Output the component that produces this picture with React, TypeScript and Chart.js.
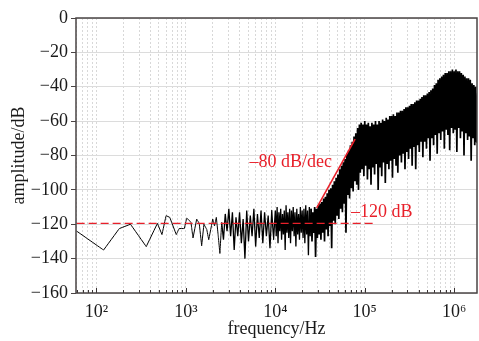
import React, { useEffect, useRef } from "react";
import { Chart, registerables } from "chart.js";

Chart.register(...registerables);

// ---- data ----
const lowFreq = [60, 120, 180, 240, 360, 480, 540, 600, 660, 780, 840, 960, 1020, 1080, 1140, 1200, 1320, 1410, 1500, 1590, 1710, 1800];
const lowAmp = [-124, -135, -122.5, -120, -133, -119.5, -126, -115, -116, -126, -122.5, -122.5, -116.5, -117.5, -119, -128, -117, -119.5, -132.5, -120, -123, -129];

// mid region: log10(freq) grid start / step, one value per bin
const midExpStart = 3.3;
const midExpStep = 0.02;
const midAmp = [-117, -121, -116, -126, -137, -119, -129, -114, -124, -111, -127, -113, -135, -116, -127, -113, -131, -117, -140, -112, -130, -115, -127, -111, -133, -114, -128, -112, -131, -113, -127, -115, -134, -112, -129];

// dense band region: per bin a high and a low excursion
const bandExpStart = 4.0;
const bandExpStep = 0.02;
const bandUpper = [
  -112, -110, -113, -111, -114, -112, -109, -113, -111, -112, -110, -113, -111, -114, -110, -112, -111, -109, -112, -110, -111, -113, -110, -111, -109,
  -108, -107, -105, -104, -102, -100, -99, -97, -95, -93, -91, -88, -86, -84, -82, -79, -77, -74, -72, -69, -67, -64, -62,
  -61, -62, -60, -62, -61, -63, -61, -62, -60, -62, -60, -61, -59, -60, -58, -59,
  -57, -57, -56, -57, -55, -55, -54, -54, -53, -52, -52, -51, -50, -50, -49, -48,
  -48, -47, -46, -45, -45, -44, -43, -42, -41, -39, -38, -36, -35, -34, -33, -32,
  -32, -31, -31, -30, -31, -30, -31, -31, -32, -33, -34, -35, -35, -36, -38, -39, -40, -42,
];
const bandLower = [
  -127, -131, -124, -129, -126, -135, -125, -128, -131, -124, -127, -133, -126, -129, -125, -128, -131, -126, -138, -127, -130, -125, -139, -128, -126,
  -129, -125, -130, -123, -127, -121, -134, -118, -120, -115, -117, -111, -113, -108, -125, -103, -105, -99, -101, -95, -97, -100, -90,
  -88, -92, -86, -94, -88, -97, -87, -91, -85, -100, -87, -92, -84, -96, -85, -88,
  -83, -93, -82, -86, -90, -80, -84, -79, -88, -78, -82, -76, -86, -75, -88, -74,
  -78, -72, -81, -72, -76, -70, -83, -70, -74, -68, -79, -67, -71, -66, -76, -65,
  -68, -77, -64, -67, -65, -78, -64, -70, -66, -80, -67, -71, -69, -83, -70, -74, -72, -75,
];

const refLevel = -119.5;
const refFreq = [60, 124000];
const slopeFreq = [29000, 78000];
const slopeAmp = [-110.5, -70.5];

const slopeLabel = "–80 dB/dec";
const slopeLabelAt = { x: 43000, y: -83.7 };
const refLabel = "–120 dB";
const refLabelAt = { x: 70300, y: -113.2 };

const xMin = 59;
const xMax = 1.8e6;
const yMin = -160;
const yMax = 0;
const yStep = 20;
const decades = [10, 100, 1000, 10000, 100000, 1000000];
const supers: Record<string, string> = { "1": "¹", "2": "²", "3": "³", "4": "⁴", "5": "⁵", "6": "⁶" };

const FONT = "'Liberation Serif', 'Times New Roman', serif";
const RED = "#e8202a";
const INK = "#1a1a1a";

function buildSpectrum() {
  const pts: { x: number; y: number }[] = [];
  lowFreq.forEach((f, i) => pts.push({ x: f, y: lowAmp[i] }));
  midAmp.forEach((a, i) => pts.push({ x: Math.pow(10, midExpStart + i * midExpStep), y: a }));
  bandUpper.forEach((u, k) => {
    const e = bandExpStart + k * bandExpStep;
    pts.push({ x: Math.pow(10, e), y: u });
    pts.push({ x: Math.pow(10, e + bandExpStep / 2), y: bandLower[k] });
  });
  return pts;
}

const overlay = {
  id: "overlay",
  afterDatasetsDraw(chart: any) {
    const { ctx, chartArea: a, scales } = chart;
    const xs = scales.x;
    const ys = scales.y;
    ctx.save();
    // inward ticks on the bottom axis
    ctx.strokeStyle = "#3a3333";
    ctx.lineWidth = 1;
    xs.ticks.forEach((t: any) => {
      const px = Math.round(xs.getPixelForValue(t.value)) + 0.5;
      const major = Math.abs(Math.log10(t.value) - Math.round(Math.log10(t.value))) < 1e-6;
      ctx.beginPath();
      ctx.moveTo(px, a.bottom);
      ctx.lineTo(px, a.bottom - (major ? 5 : 3));
      ctx.stroke();
    });
    // frame
    ctx.strokeStyle = "#4a4444";
    ctx.lineWidth = 1.5;
    ctx.strokeRect(a.left, a.top, a.right - a.left, a.bottom - a.top);
    // annotations
    ctx.fillStyle = RED;
    ctx.font = `18px ${FONT}`;
    ctx.textBaseline = "middle";
    ctx.textAlign = "right";
    ctx.fillText(slopeLabel, xs.getPixelForValue(slopeLabelAt.x), ys.getPixelForValue(slopeLabelAt.y));
    ctx.textAlign = "left";
    ctx.fillText(refLabel, xs.getPixelForValue(refLabelAt.x), ys.getPixelForValue(refLabelAt.y));
    ctx.restore();
  },
};

export default function App() {
  const ref = useRef<HTMLCanvasElement>(null);
  useEffect(() => {
    if (!ref.current) return;
    const chart = new Chart(ref.current, {
      type: "line",
      data: {
        datasets: [
          {
            data: [
              { x: slopeFreq[0], y: slopeAmp[0] },
              { x: slopeFreq[1], y: slopeAmp[1] },
            ],
            borderColor: RED,
            borderWidth: 1.6,
            pointRadius: 0,
            order: 0,
          },
          {
            data: [
              { x: refFreq[0], y: refLevel },
              { x: refFreq[1], y: refLevel },
            ],
            borderColor: RED,
            borderWidth: 1.3,
            borderDash: [8, 4],
            pointRadius: 0,
            order: 1,
          },
          {
            data: buildSpectrum(),
            borderColor: "#000000",
            borderWidth: 1,
            borderJoinStyle: "bevel",
            pointRadius: 0,
            tension: 0.00001,
            segment: {
              borderWidth: (c: any) => {
                const f = c.p0.parsed.x;
                if (f >= 25000) return 1.7;
                if (f >= 2500) return 1.3;
                return 1;
              },
            },
            order: 2,
          },
        ],
      },
      options: {
        animation: false,
        responsive: false,
        devicePixelRatio: 1,
        layout: { padding: { top: 18, right: 2, left: 0, bottom: 0 } },
        plugins: { legend: { display: false }, tooltip: { enabled: false } },
        scales: {
          x: {
            type: "logarithmic",
            min: xMin,
            max: xMax,
            afterBuildTicks(scale: any) {
              const vals: { value: number }[] = [];
              decades.forEach((d) => {
                for (let m = 1; m <= 9; m++) {
                  const v = d * m;
                  if (v >= xMin && v <= xMax) vals.push({ value: v });
                }
              });
              scale.ticks = vals;
            },
            afterFit(scale: any) {
              scale.height = 48;
            },
            ticks: {
              autoSkip: false,
              maxRotation: 0,
              padding: 8,
              color: INK,
              font: { family: FONT, size: 18 },
              callback(v: any) {
                const lg = Math.log10(v);
                if (Math.abs(lg - Math.round(lg)) > 1e-6) return "";
                return "10" + String(Math.round(lg)).split("").map((c) => supers[c] || c).join("");
              },
            },
            grid: { color: "#d8d8d8", lineWidth: 1, drawTicks: false },
            border: { display: false, dash: [2, 2] },
            title: {
              display: true,
              text: "frequency/Hz",
              color: INK,
              font: { family: FONT, size: 18 },
              padding: { top: 0, bottom: 1 },
            },
          },
          y: {
            min: yMin,
            max: yMax,
            afterFit(scale: any) {
              scale.width = 76;
            },
            ticks: {
              stepSize: yStep,
              padding: 3,
              color: INK,
              font: { family: FONT, size: 18 },
              callback(v: any) {
                return v === 0 ? "0" : "−" + Math.abs(v);
              },
            },
            grid: { color: "#dcdcdc", lineWidth: 1, drawTicks: true, tickLength: 5, tickColor: "#4a4444" },
            border: { display: false },
            title: {
              display: true,
              text: "amplitude/dB",
              color: INK,
              font: { family: FONT, size: 18 },
              padding: { top: 8, bottom: 0 },
            },
          },
        },
      },
      plugins: [overlay],
    } as any);
    return () => chart.destroy();
  }, []);
  return (
    <div style={{ position: "fixed", left: 0, top: 0, width: 479, height: 341, background: "#fff" }}>
      <canvas ref={ref} width={479} height={341} />
    </div>
  );
}
